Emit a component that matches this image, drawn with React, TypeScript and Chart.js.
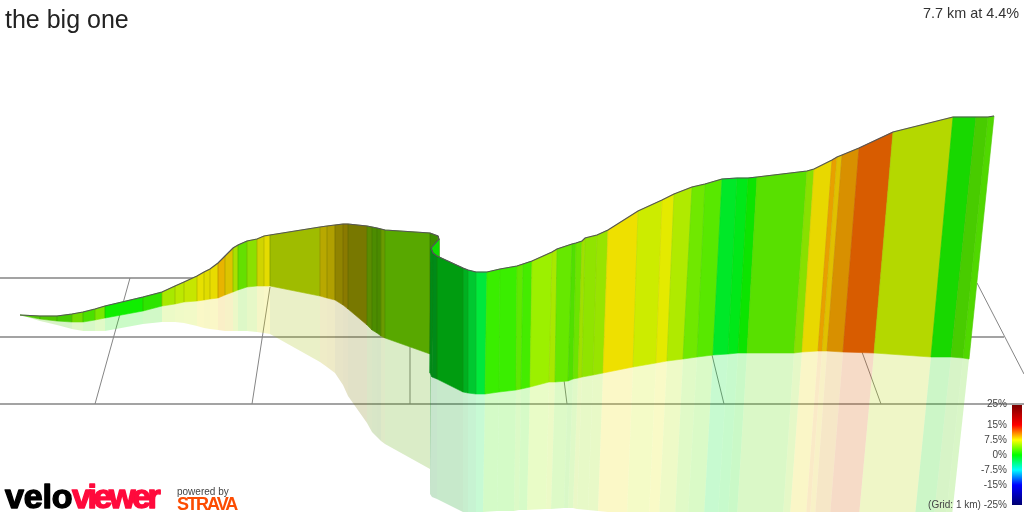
import { useEffect, useRef } from 'react'
import Chart from 'chart.js/auto'

const title = 'the big one'
const summary = '7.7 km at 4.4%'
const legendLabels = ['25%', '15%', '7.5%', '0%', '-7.5%', '-15%', '(Grid: 1 km) -25%']
const legendLabelY = [404, 425, 440, 455, 470, 485, 505]

// projected road profile, one entry per strip boundary
const topX = [20, 40, 57, 72, 83, 95, 105, 143, 162, 175, 184, 197, 204, 210, 218, 225, 233, 238, 247, 257, 264, 270, 320, 327, 335, 343, 348, 367, 372, 377, 381, 385, 430, 438, 439, 431, 431, 433, 437, 463, 468, 476, 487, 500, 517, 523, 532, 552, 557, 572, 576, 582, 585, 597, 608, 638, 662, 674, 692, 705, 722, 737, 748, 757, 807, 814, 832, 837, 842, 859, 893, 953, 976, 988, 994]
const topY = [315, 316, 316, 314, 312, 309, 306, 297, 292, 286, 282, 276, 272, 269, 263, 256, 248, 245, 241, 239, 236, 235, 227, 226, 225, 224, 224, 226, 227, 228, 229, 230, 233, 236, 239, 248, 248, 253, 256, 268, 270, 272, 272, 269, 266, 264, 261, 252, 249, 244, 243, 241, 238, 235, 230, 211, 200, 194, 187, 184, 179, 178, 178, 177, 171, 169, 160, 157, 155, 148, 132, 117, 117, 117, 116]
const baseX = [20, 40, 57, 72, 83, 95, 105, 143, 162, 175, 184, 197, 204, 210, 218, 225, 233, 238, 247, 257, 264, 270, 320, 327, 335, 343, 348, 367, 372, 377, 381, 385, 430, 431, 439, 431, 430, 432, 437, 463, 468, 476, 485, 499, 516, 521, 530, 549, 555, 568, 573, 578, 582, 593, 603, 633, 656, 667, 683, 697, 713, 728, 738, 747, 794, 802, 818, 822, 827, 843, 874, 931, 951, 963, 969]
const baseY = [315, 319, 321, 322, 322, 320, 318, 311, 306, 304, 302, 301, 300, 299, 298, 295, 292, 290, 287, 286, 286, 286, 296, 298, 300, 305, 309, 325, 330, 333, 336, 338, 354, 354, 258, 262, 373, 377, 379, 392, 393, 394, 394, 392, 390, 389, 387, 382, 382, 381, 379, 378, 377, 375, 373, 367, 363, 361, 359, 357, 355, 354, 353, 353, 353, 352, 351, 351, 351, 352, 353, 357, 357, 358, 359]
const shadowX = [20, 40, 57, 72, 83, 95, 105, 143, 162, 175, 184, 197, 204, 210, 218, 225, 233, 238, 247, 257, 264, 270, 320, 327, 335, 343, 348, 367, 372, 377, 381, 385, 430, 431, 439, 431, 430, 432, 437, 463, 468, 476, 483, 497, 514, 519, 527, 546, 551, 564, 568, 573, 577, 588, 598, 627, 649, 659, 675, 688, 704, 718, 728, 737, 783, 790, 806, 810, 815, 830, 859, 915, 934, 946, 952]
const shadowY = [315, 321, 325, 329, 331, 331, 331, 324, 322, 322, 323, 326, 328, 329, 330, 331, 331, 331, 331, 332, 333, 334, 362, 367, 373, 385, 396, 423, 432, 437, 441, 444, 469, 354, 258, 262, 494, 497, 499, 512, 513, 513, 512, 511, 511, 510, 510, 509, 509, 508, 508, 508, 509, 510, 511, 514, 516, 516, 516, 516, 516, 516, 516, 516, 516, 516, 516, 516, 516, 516, 516, 516, 516, 516, 516]
// gradient colour of the strip that starts at each boundary
const stripColours = ['#4fc800', '#4fc800', '#45cc00', '#70dc00', '#4ae000', '#78e800', '#10ee00', '#2ee400', '#a8e800', '#bce800', '#c6e600', '#e6e000', '#e0dc00', '#e8dc00', '#e8b400', '#dcc400', '#a8e000', '#64e000', '#8ce000', '#d0d400', '#e4dc00', '#9fbc00', '#b8a800', '#b0a000', '#908400', '#8a7a00', '#787800', '#5a8c00', '#4c8c00', '#4a8a00', '#6a9a00', '#58a800', '#3c8c00', '#3c8c00', '#10dc00', '#008a18', '#008a18', '#008a18', '#009c10', '#00b020', '#00c830', '#00e83c', '#3aee00', '#3aee00', '#60e800', '#44ec00', '#9cf000', '#a8e800', '#66e800', '#50e000', '#6ce400', '#a0e000', '#90e400', '#98e400', '#eee000', '#ccec00', '#e4ea00', '#b0ea00', '#70e800', '#58e800', '#00e828', '#00e818', '#0ce400', '#58e000', '#88e000', '#e8d800', '#e8a000', '#e0c000', '#d89000', '#d85c00', '#b4d800', '#18d800', '#48cc00', '#50d800']
// boundaries of the hairpin, where no seam shows
const hiddenSeams = [33, 34, 35, 36]

// ground grid
const rowLines = [[0, 278, 976, 278], [0, 337, 1004, 337], [0, 404, 1024, 404]]
const spokeLines = [[95, 404, 130, 278], [252, 404, 270, 287], [410, 404, 410, 340], [567, 404, 564, 380], [724, 404, 712, 355], [881, 404, 862, 352], [977, 283, 1024, 374]]

const barX = [1012, 1022]
const barY = [405, 505]
const barStops = [[0, '#7a0000'], [0.2, '#ff0000'], [0.35, '#ffff00'], [0.5, '#00ff00'], [0.65, '#00ffff'], [0.8, '#0000ff'], [1, '#000070']] as [number, string][]

const sans = '"Liberation Sans", Arial, sans-serif'

const quad = (a: number, b: number, xa: number[], ya: number[], xb: number[], yb: number[]) => [
  { x: xa[a], y: ya[a] },
  { x: xa[b], y: ya[b] },
  { x: xb[b], y: yb[b] },
  { x: xb[a], y: yb[a] },
  { x: xa[a], y: ya[a] },
]

const segment = (l: number[]) => [{ x: l[0], y: l[1] }, { x: l[2], y: l[3] }]

const textPlugin = {
  id: 'veloText',
  afterDraw(chart: any) {
    const { ctx } = chart
    ctx.save()
    ctx.textBaseline = 'alphabetic'

    ctx.textAlign = 'left'
    ctx.fillStyle = '#222'
    ctx.font = `25px ${sans}`
    ctx.fillText(title, 5, 28)

    ctx.textAlign = 'right'
    ctx.fillStyle = '#333'
    ctx.font = `14.4px ${sans}`
    ctx.fillText(summary, 1019, 18)

    ctx.font = `10px ${sans}`
    ctx.fillStyle = '#444'
    ctx.textBaseline = 'middle'
    legendLabels.forEach((label, i) => ctx.fillText(label, 1007, legendLabelY[i]))

    // logo
    ctx.textAlign = 'left'
    ctx.textBaseline = 'alphabetic'
    ctx.lineJoin = 'round'
    ctx.font = `bold 34px ${sans}`
    ctx.letterSpacing = '-0.2px'
    ctx.fillStyle = ctx.strokeStyle = '#000'
    ctx.lineWidth = 1.4
    ctx.fillText('velo', 5, 508)
    ctx.strokeText('velo', 5, 508)
    ctx.letterSpacing = '-3.4px'
    ctx.fillStyle = ctx.strokeStyle = '#ff0a3c'
    ctx.fillText('viewer', 72, 508)
    ctx.strokeText('viewer', 72, 508)

    ctx.letterSpacing = '0px'
    ctx.fillStyle = '#444'
    ctx.font = `10px ${sans}`
    ctx.fillText('powered by', 177, 495)
    ctx.font = `bold 18px ${sans}`
    ctx.letterSpacing = '-2px'
    ctx.fillStyle = '#fc4c02'
    ctx.fillText('STRAVA', 177, 510)
    ctx.restore()
  },
}

export default function App() {
  const canvasRef = useRef<HTMLCanvasElement>(null)

  useEffect(() => {
    if (!canvasRef.current) return
    document.body.style.margin = '0'

    const ctx = canvasRef.current.getContext('2d')!
    const barFill = ctx.createLinearGradient(0, barY[0], 0, barY[1])
    barStops.forEach(([at, colour]) => barFill.addColorStop(at, colour))

    const strips = stripColours.map((colour, i) => ({
      data: quad(i, i + 1, topX, topY, baseX, baseY),
      showLine: true,
      fill: 'shape',
      backgroundColor: colour,
      borderColor: colour,
      borderWidth: 0.6,
      pointRadius: 0,
    }))
    const shadows = stripColours.map((colour, i) => ({
      data: quad(i, i + 1, baseX, baseY, shadowX, shadowY),
      showLine: true,
      fill: 'shape',
      backgroundColor: colour + '38',
      borderWidth: 0,
      pointRadius: 0,
    }))
    const seams = topX
      .map((x, i) => ({
        data: segment([x, topY[i], baseX[i], baseY[i]]),
        showLine: true,
        borderColor: 'rgba(60,90,0,0.07)',
        borderWidth: 1,
        pointRadius: 0,
        hidden: hiddenSeams.includes(i),
      }))
    const rows = rowLines.map(l => ({
      data: segment(l),
      showLine: true,
      borderColor: '#858585',
      borderWidth: 1.4,
      pointRadius: 0,
    }))
    const spokes = spokeLines.map(l => ({
      data: segment(l),
      showLine: true,
      borderColor: '#858585',
      borderWidth: 1,
      pointRadius: 0,
    }))

    const chart = new Chart(canvasRef.current, {
      type: 'scatter',
      data: {
        datasets: [
          // first dataset ends up on top
          {
            data: [
              { x: barX[0], y: barY[0] },
              { x: barX[1], y: barY[0] },
              { x: barX[1], y: barY[1] },
              { x: barX[0], y: barY[1] },
              { x: barX[0], y: barY[0] },
            ],
            showLine: true,
            fill: 'shape',
            backgroundColor: barFill,
            borderWidth: 0,
            pointRadius: 0,
          },
          {
            data: topX.map((x, i) => ({ x, y: topY[i] })),
            showLine: true,
            borderColor: '#555',
            borderWidth: 1.2,
            pointRadius: 0,
          },
          ...seams,
          ...strips.reverse(),
          ...shadows.reverse(),
          ...rows,
          ...spokes,
        ] as any,
      },
      options: {
        responsive: false,
        animation: false,
        events: [],
        layout: { padding: 0 },
        scales: {
          x: { type: 'linear', min: 0, max: 1024, display: false },
          y: { type: 'linear', min: 0, max: 512, reverse: true, display: false },
        },
        plugins: {
          legend: { display: false },
          tooltip: { enabled: false },
        },
      },
      plugins: [textPlugin],
    })

    return () => chart.destroy()
  }, [])

  return <canvas ref={canvasRef} width={1024} height={512} style={{ display: 'block' }} />
}
